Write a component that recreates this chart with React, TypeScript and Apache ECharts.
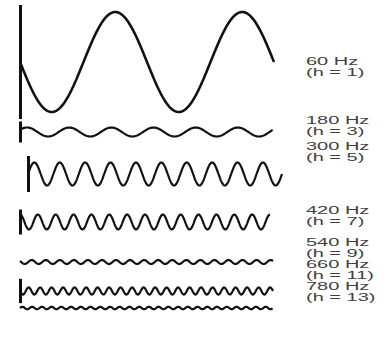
import React, { useEffect, useRef } from "react";
import * as echarts from "echarts";

// Harmonic content
const harmonics = [1, 3, 5, 7, 9, 11, 13];
const freqLabels = ["60 Hz", "180 Hz", "300 Hz", "420 Hz", "540 Hz", "660 Hz", "780 Hz"];
const orderLabels = ["(h = 1)", "(h = 3)", "(h = 5)", "(h = 7)", "(h = 9)", "(h = 11)", "(h = 13)"];
// relative amplitude (fundamental = 1)
const amplitudes = [1.0, 0.09, 0.23, 0.15, 0.04, 0.08, 0.04];
// starting phase of each harmonic, degrees
const phasesDeg = [180, 30, 0, 90, 150, 180, 0];
// half height of the start marker bar (relative units), 0 = none
const spikeHalf = [1.14, 0.21, 0.36, 0.25, 0, 0.27, 0];

// layout (px)
const rowCenters = [62, 132, 174, 222, 262, 297, 331];
const rowLeft = [20, 20, 28, 20, 20, 20, 20];
const rowWidth = [254, 253, 254, 250, 253, 253, 253];
const unitPx = 50;
const labelY1 = [62, 121, 147, 211, 243, 265, 287];
const labelLeft = 306;
const labelLine = 11;
const labelStretch = 2.0;

const STEPS = 720;

function wave(i: number): number[][] {
  const pts: number[][] = [];
  const n = harmonics[i];
  const a = amplitudes[i];
  const ph = (phasesDeg[i] * Math.PI) / 180;
  for (let k = 0; k <= STEPS; k++) {
    const theta = (k / STEPS) * 720;
    pts.push([theta, a * Math.sin((n * theta * Math.PI) / 180 + ph)]);
  }
  return pts;
}

export default function App() {
  const ref = useRef<HTMLDivElement>(null);
  useEffect(() => {
    if (!ref.current) return;
    const chart = echarts.init(ref.current, undefined, { renderer: "svg" });
    const grids: any[] = [];
    const xAxes: any[] = [];
    const yAxes: any[] = [];
    const series: any[] = [];
    const graphics: any[] = [];
    harmonics.forEach((h, i) => {
      const rangeU = 1.2;
      grids.push({
        left: rowLeft[i],
        width: rowWidth[i],
        top: rowCenters[i] - rangeU * unitPx,
        height: 2 * rangeU * unitPx,
        containLabel: false,
      });
      xAxes.push({ type: "value", gridIndex: i, min: 0, max: 720, show: false });
      yAxes.push({ type: "value", gridIndex: i, min: -rangeU, max: rangeU, show: false });
      const s: any = {
        type: "line",
        xAxisIndex: i,
        yAxisIndex: i,
        data: wave(i),
        showSymbol: false,
        symbol: "none",
        silent: true,
        lineStyle: { color: "#111", width: i === 0 ? 2.6 : 2.2 },
      };
      if (spikeHalf[i] > 0) {
        s.markLine = {
          silent: true,
          symbol: ["none", "none"],
          label: { show: false },
          lineStyle: { color: "#111", width: 3, type: "solid" },
          data: [[{ coord: [0, -spikeHalf[i]] }, { coord: [0, spikeHalf[i]] }]],
        };
      }
      series.push(s);
      graphics.push({
        type: "text",
        x: labelLeft,
        y: labelY1[i] - labelLine / 2,
        scaleX: labelStretch,
        silent: true,
        style: {
          text: freqLabels[i] + "\n" + orderLabels[i],
          fill: "#404040",
          font: "10px 'Liberation Sans', Arial, sans-serif",
          lineHeight: labelLine,
          verticalAlign: "top",
          align: "left",
        },
      });
    });
    chart.setOption({
      animation: false,
      backgroundColor: "#fff",
      grid: grids,
      xAxis: xAxes,
      yAxis: yAxes,
      series,
      graphic: graphics,
    });
    return () => chart.dispose();
  }, []);
  return (
    <div
      ref={ref}
      style={{ position: "fixed", left: 0, top: 0, width: 388, height: 345 }}
    />
  );
}
